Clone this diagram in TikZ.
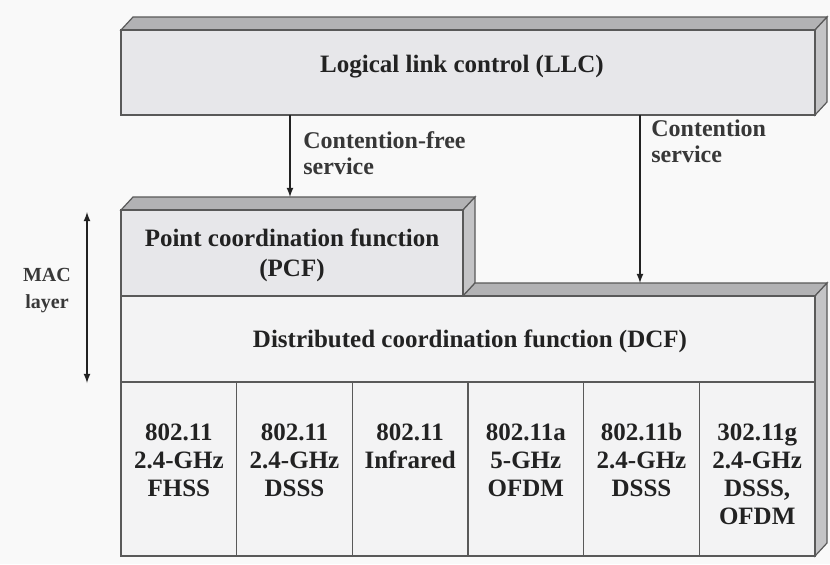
\documentclass[tikz,border=0pt]{standalone}
\usepackage{fontspec}
\setmainfont{Liberation Serif}
\usepackage{xcolor}
\usetikzlibrary{shapes,arrows,positioning,calc}
\definecolor{paper}{RGB}{249,249,249}
\definecolor{blockfront}{RGB}{231,231,234}
\definecolor{blocklight}{RGB}{243,243,244}
\definecolor{blocktop}{RGB}{178,178,180}
\definecolor{blockside}{RGB}{196,196,198}
\definecolor{ink}{RGB}{34,34,34}

\tikzset{
  blocktext/.style={font=\fontsize{12.5}{14}\selectfont\bfseries, text=ink, align=center, inner sep=0pt},
  servicetext/.style={font=\fontsize{12}{13}\selectfont\bfseries, text=ink!90, align=left, inner sep=0pt},
  face/.style={draw=ink!75, line width=0.6pt},
  service/.style={-latex, draw=ink, line width=0.6pt},
}

\begin{document}
\begin{tikzpicture}[x=0.5pt, y=-0.5pt]
				\useasboundingbox[fill=paper] (0,0) rectangle (830,564);
				
				% Draw LLC block
				\draw[face, fill=blocktop] (121,30) -- (133,17) -- (827,17) -- (815,30) -- cycle;
				\draw[face, fill=blockside] (815,30) -- (827,17) -- (827,102) -- (815,115) -- cycle;
				\draw[face, fill=blockfront] (121,30) rectangle (815,115);
				\node[blocktext] (llc) at (462,67) {Logical link control (LLC)};
				
				% Draw PCF block on top of the MAC stack
				\draw[face, fill=blocktop] (121,210) -- (133,197) -- (475,197) -- (463,210) -- cycle;
				\draw[face, fill=blockside] (463,210) -- (475,197) -- (475,283) -- (463,296) -- cycle;
				\draw[face, fill=blockfront] (121,210) rectangle (463,296);
				\node[blocktext, font=\fontsize{12.5}{15}\selectfont\bfseries] (pcf) at (292,255) {Point coordination function\\(PCF)};
				
				% Draw DCF block
				\draw[face, fill=blocktop] (463,296) -- (475,283) -- (827,283) -- (815,296) -- cycle;
				\draw[face, fill=blockside] (815,296) -- (827,283) -- (827,543) -- (815,556) -- cycle;
				\draw[face, fill=blocklight] (121,296) rectangle (815,382);
				\node[blocktext] (dcf) at (470,341) {Distributed coordination function (DCF)};
				
				% Draw physical layer cells
				\foreach \phy [count=\k] in {{802.11\\2.4-GHz\\FHSS}, {802.11\\2.4-GHz\\DSSS}, {802.11\\Infrared},
				                             {802.11a\\5-GHz\\OFDM}, {802.11b\\2.4-GHz\\DSSS}, {302.11g\\2.4-GHz\\DSSS,\\OFDM}} {
				  \draw[face, fill=blocklight] ({121+(\k-1)*115.67},382) rectangle ({121+\k*115.67},556);
				  \node[blocktext, anchor=north] (phy\k) at ({121+(\k-0.5)*115.67},423) {\phy};
				}
				
				% Draw service arrows
				\coordinate (cfStart) at (290,115);
				\coordinate (cfEnd) at (290,197);
				\coordinate (cStart) at (640,115);
				\coordinate (cEnd) at (640,283);
				\draw[service] (cfStart) -- (cfEnd);
				\draw[service] (cStart) -- (cEnd);
				\node[servicetext, anchor=north west] (cfree) at (303,131) {Contention-free\\service};
				\node[servicetext, anchor=north west] (cont) at (651,119) {Contention\\service};
				
				% MAC layer extent
				\coordinate (macTop) at (87,212);
				\coordinate (macBot) at (87,383);
				\draw[service, latex-latex] (macTop) -- (macBot);
				\node[servicetext, align=center, font=\fontsize{10}{13.5}\selectfont\bfseries] (mac) at (47,291) {MAC\\layer};
			\end{tikzpicture}
\end{document}
